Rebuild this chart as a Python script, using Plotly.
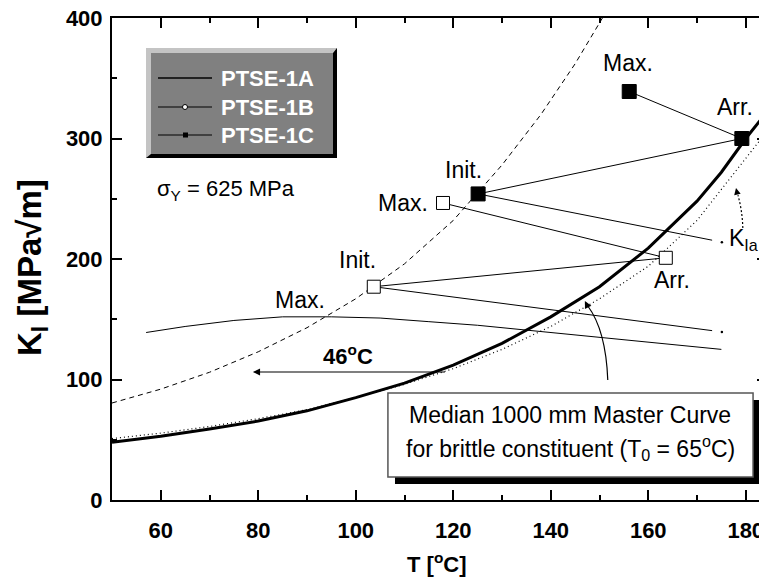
import plotly.graph_objects as go

# ---------------- data ----------------
# Median 1000 mm master curve (thick solid)
T_master = [50, 60, 70, 80, 90, 100, 110, 120, 130, 140, 150, 160, 170, 175, 180, 184.36]
K_master = [48, 53, 59, 65.5, 74, 85, 97, 112, 130, 152, 177, 209, 248, 272, 300, 322]

# K_Ia curve (dotted)
T_kia = [50, 60, 70, 80, 90, 100, 110, 120, 130, 140, 150, 160, 170, 180, 184.36]
K_kia = [51, 55.5, 61, 67.5, 75, 85, 96, 109, 125, 144, 167, 194, 232, 283, 306]

# Master curve shifted by 46 C (dashed)
T_shift = [50, 60, 70, 80, 90, 100, 110, 120, 130, 138, 145, 150.6]
K_shift = [80.5, 92, 106, 123, 143, 167, 196, 232, 278, 320, 362, 400]

# PTSE-1A loading path
T_1A = [57, 65, 75, 85, 95, 105, 115, 125, 135, 145, 155, 165, 175]
K_1A = [139, 144, 149, 152, 152, 151, 148, 145, 141, 137, 133, 129, 125]

# PTSE-1B points: Init., Max., Arr., end of path
T_1B = [103.7, 117.9, 163.6, 175.1]
K_1B = [177, 246.5, 201, 139.5]

# PTSE-1C points: Init., Max., Arr., end of path
T_1C = [125.1, 156.1, 179.2, 175.1]
K_1C = [254, 339, 300, 214]

x_ticks = [60, 80, 100, 120, 140, 160, 180]
y_ticks = [0, 100, 200, 300, 400]

FONT = "Liberation Sans, Arial, sans-serif"

# the page body has an 8px margin; the figure is sized/placed to compensate
OFF = 8
WIN_W, WIN_H = 767, 586

# ---------------- figure ----------------
fig = go.Figure()

fig.add_trace(go.Scatter(x=T_shift, y=K_shift, mode="lines",
                         line=dict(color="black", width=1, dash="5px,4px"), hoverinfo="skip"))
fig.add_trace(go.Scatter(x=T_kia, y=K_kia, mode="lines",
                         line=dict(color="black", width=1.2, dash="1px,3px"), hoverinfo="skip"))
fig.add_trace(go.Scatter(x=T_master, y=K_master, mode="lines",
                         line=dict(color="black", width=3), hoverinfo="skip"))
fig.add_trace(go.Scatter(x=T_1A, y=K_1A, mode="lines",
                         line=dict(color="black", width=1), hoverinfo="skip"))


def path_lines(T, K, gap=2.0):
    """Segments Init->Arr, Max->Arr, Init->End (with a small gap before the end dot)."""
    xs, ys = [], []
    for a, b in [(0, 2), (1, 2)]:
        xs += [T[a], T[b], None]
        ys += [K[a], K[b], None]
    frac = gap / (T[3] - T[0])
    xe = T[3] - (T[3] - T[0]) * frac
    ye = K[3] - (K[3] - K[0]) * frac
    xs += [T[0], xe, None]
    ys += [K[0], ye, None]
    return xs, ys


for T, K, filled in [(T_1B, K_1B, False), (T_1C, K_1C, True)]:
    xs, ys = path_lines(T, K)
    fig.add_trace(go.Scatter(x=xs, y=ys, mode="lines",
                             line=dict(color="black", width=1), hoverinfo="skip"))
    fig.add_trace(go.Scatter(x=T[3:], y=K[3:], mode="markers",
                             marker=dict(symbol="circle", size=2.5, color="black"),
                             hoverinfo="skip"))
    fig.add_trace(go.Scatter(x=T[:3], y=K[:3], mode="markers",
                             marker=dict(symbol="square", size=14 if filled else 13,
                                         color="black" if filled else "white",
                                         line=dict(color="black", width=1)),
                             hoverinfo="skip"))

# ---------------- helpers for pixel-placed decorations (window pixels) ----------------
L, R, TOP, BOT = 112, 767, 18, 500


def fx(px):
    return (px - L) / (R - L)


def fy(py):
    return (BOT - py) / (BOT - TOP)


shapes = []
annotations = []

# legend box (bevelled grey)
shapes.append(dict(type="rect", xref="paper", yref="paper",
                   x0=fx(146), x1=fx(337), y0=fy(158), y1=fy(48),
                   fillcolor="#c4c4c4", line=dict(width=0), layer="above"))
shapes.append(dict(type="path", xref="paper", yref="paper",
                   path=(f"M {fx(337)},{fy(48)} L {fx(337)},{fy(158)} L {fx(146)},{fy(158)} "
                         f"L {fx(151)},{fy(154)} L {fx(333)},{fy(154)} L {fx(333)},{fy(53)} Z"),
                   fillcolor="black", line=dict(width=0), layer="above"))
shapes.append(dict(type="rect", xref="paper", yref="paper",
                   x0=fx(151), x1=fx(333), y0=fy(154), y1=fy(53),
                   fillcolor="#808080", line=dict(width=0), layer="above"))
leg_rows = [("PTSE-1A", 78), ("PTSE-1B", 107), ("PTSE-1C", 135)]
for i, (name, py) in enumerate(leg_rows):
    shapes.append(dict(type="line", xref="paper", yref="paper",
                       x0=fx(158), x1=fx(212), y0=fy(py), y1=fy(py),
                       line=dict(color="#222" if i == 0 else "black", width=2 if i == 0 else 1),
                       layer="above"))
    annotations.append(dict(text=f"<b>{name}</b>", xref="paper", yref="paper",
                            x=fx(219), y=fy(py), xanchor="left", yanchor="middle",
                            showarrow=False, font=dict(family=FONT, size=22, color="white")))
shapes.append(dict(type="circle", xref="paper", yref="paper",
                   x0=fx(182.5), x1=fx(187.5), y0=fy(109.5), y1=fy(104.5),
                   fillcolor="white", line=dict(color="black", width=1), layer="above"))
shapes.append(dict(type="rect", xref="paper", yref="paper",
                   x0=fx(183), x1=fx(188), y0=fy(137.5), y1=fy(132.5),
                   fillcolor="black", line=dict(width=0), layer="above"))

# Master-curve description box with shadow
shapes.append(dict(type="rect", xref="x", yref="y", x0=108.05, x1=182.9, y0=13.3, y1=83,
                   fillcolor="black", line=dict(width=0), layer="above"))
shapes.append(dict(type="rect", xref="x", yref="y", x0=106.6, x1=181.5, y0=19.1, y1=88.8,
                   fillcolor="white", line=dict(color="#555", width=1.5), layer="above"))
annotations.append(dict(text="Median 1000 mm Master Curve", x=144.0, y=70.5, xref="x", yref="y",
                        showarrow=False, font=dict(family=FONT, size=23, color="black")))
annotations.append(dict(text="for brittle constituent (T<sub>0</sub> = 65<sup>o</sup>C)",
                        x=144.0, y=43.2, xref="x", yref="y",
                        showarrow=False, font=dict(family=FONT, size=23, color="black")))

# curved pointer from box to the master curve
shapes.append(dict(type="path", xref="x", yref="y",
                   path="M 151.7,99.6 Q 151.3,141 147.6,161",
                   line=dict(color="black", width=1.2)))
annotations.append(dict(text=" ", x=147.0, y=165.1, ax=147.9, ay=158.0, xref="x", yref="y",
                        axref="x", ayref="y", showarrow=True, arrowhead=2, arrowsize=1.2,
                        arrowwidth=1.2, arrowcolor="black", font=dict(size=2)))

# dotted pointer for K_Ia
shapes.append(dict(type="path", xref="x", yref="y",
                   path="M 179.4,225.7 Q 179.3,240 178.4,253",
                   line=dict(color="black", width=1.2, dash="2px,2px")))
annotations.append(dict(text=" ", x=178.0, y=258.9, ax=178.3, ay=253.5, xref="x", yref="y",
                        axref="x", ayref="y", showarrow=True, arrowhead=2, arrowsize=1.1,
                        arrowwidth=1.2, arrowcolor="black", font=dict(size=2)))

# 46 C shift arrow
annotations.append(dict(text=" ", x=78.9, y=106.2, ax=118.7, ay=106.2, xref="x", yref="y",
                        axref="x", ayref="y", showarrow=True, arrowhead=2, arrowsize=1.3,
                        arrowwidth=1.1, arrowcolor="black", font=dict(size=2)))
annotations.append(dict(text="<b>46<sup>o</sup>C</b>", x=98.4, y=120.3, xref="x", yref="y",
                        showarrow=False, font=dict(family=FONT, size=22, color="black")))

# point labels
point_labels = [
    ("Max.", 155.8, 362.7), ("Arr.", 177.8, 326.1), ("Init.", 122.0, 273.9),
    ("Max.", 109.7, 246.5), ("Arr.", 164.9, 182.6), ("Init.", 100.3, 199.2),
    ("Max.", 88.6, 166.0), ("K<sub>Ia</sub>", 179.6, 215.8),
]
for txt, x, y in point_labels:
    annotations.append(dict(text=txt, x=x, y=y, xref="x", yref="y", showarrow=False,
                            font=dict(family=FONT, size=23, color="black")))

annotations.append(dict(text="σ<sub>Y</sub> = 625 MPa", x=58.8, y=257.3, xref="x", yref="y",
                        xanchor="left", showarrow=False,
                        font=dict(family=FONT, size=22, color="black")))

# axis titles
annotations.append(dict(text="<b>T [<sup>o</sup>C]</b>", xref="paper", yref="paper",
                        x=fx(437), y=fy(563), xanchor="center", yanchor="middle",
                        showarrow=False, font=dict(family=FONT, size=22, color="black")))
annotations.append(dict(text="<b>K<sub>I</sub> [MPa√m]</b>", xref="paper", yref="paper",
                        x=fx(32), y=fy(268), xanchor="center", yanchor="middle",
                        showarrow=False, textangle=-90,
                        font=dict(family=FONT, size=33, color="black")))

axis_common = dict(showgrid=False, zeroline=False, showline=True, linewidth=2, linecolor="black",
                   mirror="ticks", ticks="inside", ticklen=10, tickwidth=2, tickcolor="black",
                   ticklabeloverflow="allow",
                   tickfont=dict(family=FONT, size=22, color="black", weight="bold"))

fig.update_layout(
    width=WIN_W - OFF, height=WIN_H - OFF,
    margin=dict(l=L - OFF, r=WIN_W - R, t=TOP - OFF, b=WIN_H - BOT, pad=0),
    paper_bgcolor="white", plot_bgcolor="white",
    showlegend=False,
    shapes=shapes, annotations=annotations,
    xaxis=dict(range=[50, 184.36], tickvals=x_ticks, automargin=False,
               minor=dict(dtick=10, tick0=50, ticks="inside", ticklen=5, tickwidth=2,
                          tickcolor="black"),
               ticklabelstandoff=10, **axis_common),
    yaxis=dict(range=[0, 400], tickvals=y_ticks, automargin=False,
               minor=dict(dtick=50, tick0=0, ticks="inside", ticklen=5, tickwidth=2,
                          tickcolor="black"),
               ticklabelstandoff=3, **axis_common),
)

fig.write_html("out.html")
